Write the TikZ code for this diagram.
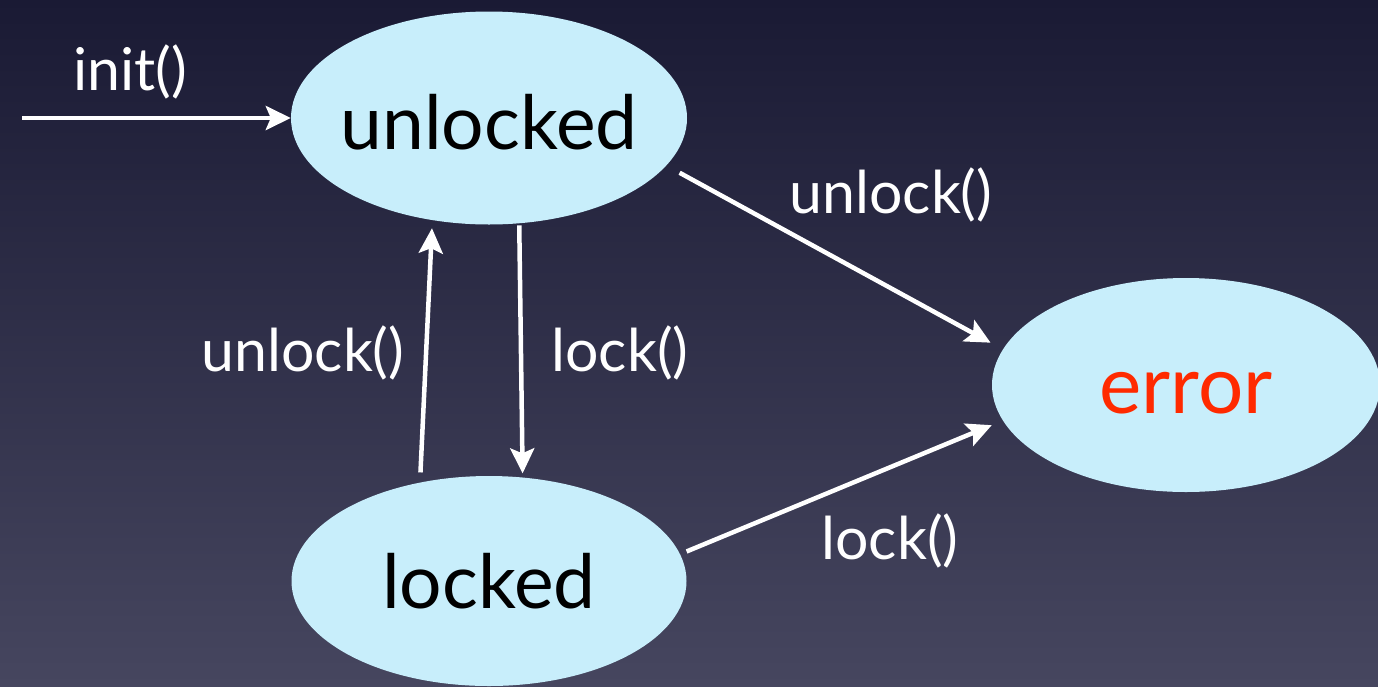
\documentclass[tikz,border=0pt]{standalone}
\usepackage{fontspec}
\setmainfont{Lato}
\usetikzlibrary{shapes.geometric,arrows.meta}
\definecolor{bgtop}{HTML}{1A1A34}
\definecolor{bgbot}{HTML}{46465F}
\definecolor{statefill}{HTML}{C8EEFB}
\definecolor{errred}{HTML}{FF2A00}
\tikzset{
  state/.style={ellipse, fill=statefill, inner sep=0pt},
  statetext/.style={font=\fontsize{75}{80}\selectfont, text=black, inner sep=0pt},
  trans/.style={draw=white, line width=4.5pt,
    -{Stealth[length=25pt, width=24pt, inset=5pt]}},
  lbl/.style={text=white, font=\fontsize{59}{64}\selectfont, inner sep=0pt}
}
\begin{document}
\begin{tikzpicture}[x=1pt, y=-1pt]
  % backdrop
  \shade[top color=bgtop, bottom color=bgbot] (0,0) rectangle (1378,686);
  \useasboundingbox (0,0) rectangle (1378,686);

  % states
  \node[state, minimum width=396pt, minimum height=213pt,
        label={[statetext, yshift=-4pt]center:unlocked}] (unlocked) at (489,118) {};
  \node[state, minimum width=395pt, minimum height=210pt,
        label={[statetext]center:locked}] (locked) at (489,581) {};
  \node[state, minimum width=388pt, minimum height=214pt,
        label={[statetext, text=errred, font=\fontsize{80}{84}\selectfont, yshift=-8pt]center:error}] (error) at (1186,385) {};

  % entry point
  \coordinate (start) at (22,118);
  \draw[trans] (start) -- (unlocked.west);

  % transitions
  \draw[trans, shorten <=15pt, shorten >=14pt] (unlocked.-15.75) -- (error.169.2);
  \draw[trans, shorten <=7pt, shorten >=12pt] (locked.8.2) -- (error.191.9);
  \draw[trans, shorten <=10pt, shorten >=8pt] (locked.125.2) -- (unlocked.241);
  \draw[trans, shorten <=2pt, shorten >=4pt] (unlocked.286.9) -- (locked.72.9);

  % transition labels
  \node[lbl] (linit) at (130,72) {init()};
  \node[lbl] (lue) at (891,195) {unlock()};
  \node[lbl] (lle) at (890,541) {lock()};
  \node[lbl] (llu) at (303,353) {unlock()};
  \node[lbl] (lul) at (620,353) {lock()};
\end{tikzpicture}
\end{document}
